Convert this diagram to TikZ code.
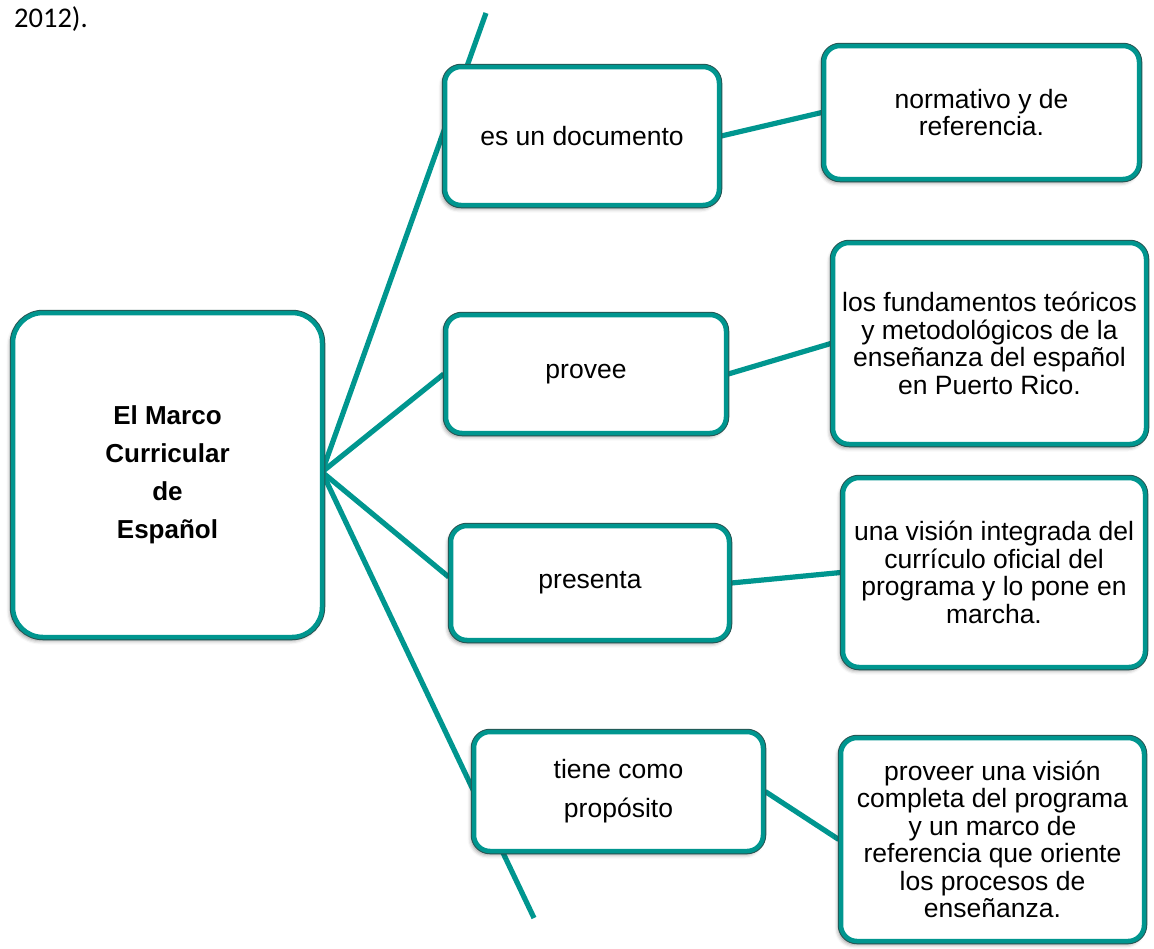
\documentclass[tikz,border=0pt]{standalone}
\usepackage{fontspec}
\setmainfont{Liberation Sans}
\newfontfamily\notefont{Carlito}
\usetikzlibrary{shadows.blur,backgrounds}
\definecolor{tealline}{RGB}{0,150,143}
\definecolor{tealedge}{RGB}{38,84,82}
\begin{document}
\begin{tikzpicture}[x=1pt,y=-1pt,
  box/.style={rectangle, rounded corners=16pt, fill=white, draw=tealline, line width=4.5pt,
    blur shadow={shadow xshift=-2.5pt, shadow yshift=-3.5pt, shadow blur radius=4pt, shadow opacity=45},
    preaction={draw=tealedge, line width=6.5pt},
    align=center, inner sep=0pt, font=\fontsize{26.5}{27.5}\selectfont},
  link/.style={draw=tealline, line width=5.2pt}]
\useasboundingbox (0,0) rectangle (1154,948);

% closing words of the preceding paragraph
\node[anchor=base west, inner sep=0pt, font=\notefont\fontsize{28.5}{30}\selectfont] (cite) at (14,27) {2012).};

% central concept
\node[box, rounded corners=30pt, minimum width=309pt, minimum height=324pt,
      font=\bfseries\fontsize{26}{38}\selectfont] (main) at (167.5,475)
  {El Marco\\ Curricular\\ de\\ Español};

% linking phrases
\node[box, minimum width=274pt, minimum height=138pt] (doc) at (582,136) {es un documento};
\node[box, minimum width=280pt, minimum height=118pt] (provee) at (586,374) {provee};
\node[box, minimum width=278pt, minimum height=114pt] (presenta) at (590,583) {presenta};
\node[box, minimum width=289pt, minimum height=119pt] (tiene) at (618.5,791.5) {tiene como\\[11.5pt] propósito};

% concepts
\node[box, minimum width=315pt, minimum height=133pt] (norm) at (981.5,112.5) {normativo y de\\ referencia.};
\node[box, minimum width=313pt, minimum height=201pt] (fund) at (989.5,343.5)
  {los fundamentos teóricos\\ y metodológicos de la\\ enseñanza del español\\ en Puerto Rico.};
\node[box, minimum width=302pt, minimum height=189pt] (vision) at (994,572.5)
  {una visión integrada del\\ currículo oficial del\\ programa y lo pone en\\ marcha.};
\node[box, minimum width=303pt, minimum height=203pt] (proveer) at (992.5,839.5)
  {proveer una visión\\ completa del programa\\ y un marco de\\ referencia que oriente\\ los procesos de\\ enseñanza.};

% branching point and free ends of the spine
\coordinate (hub) at (322,472);
\coordinate (topend) at (486,13);
\coordinate (botend) at (534,918);

\begin{scope}[on background layer]
  \draw[link] (hub) -- (topend);
  \draw[link] (hub) -- (botend);
  \draw[link] (hub) -- (provee.west);
  \draw[link] (hub) -- ([yshift=6pt]presenta.west);
  \draw[link] (doc.east) -- (norm.west);
  \draw[link] (provee.east) -- (fund.west);
  \draw[link] (presenta.east) -- (vision.west);
  \draw[link] (tiene.east) -- (proveer.west);
\end{scope}
\end{tikzpicture}
\end{document}
